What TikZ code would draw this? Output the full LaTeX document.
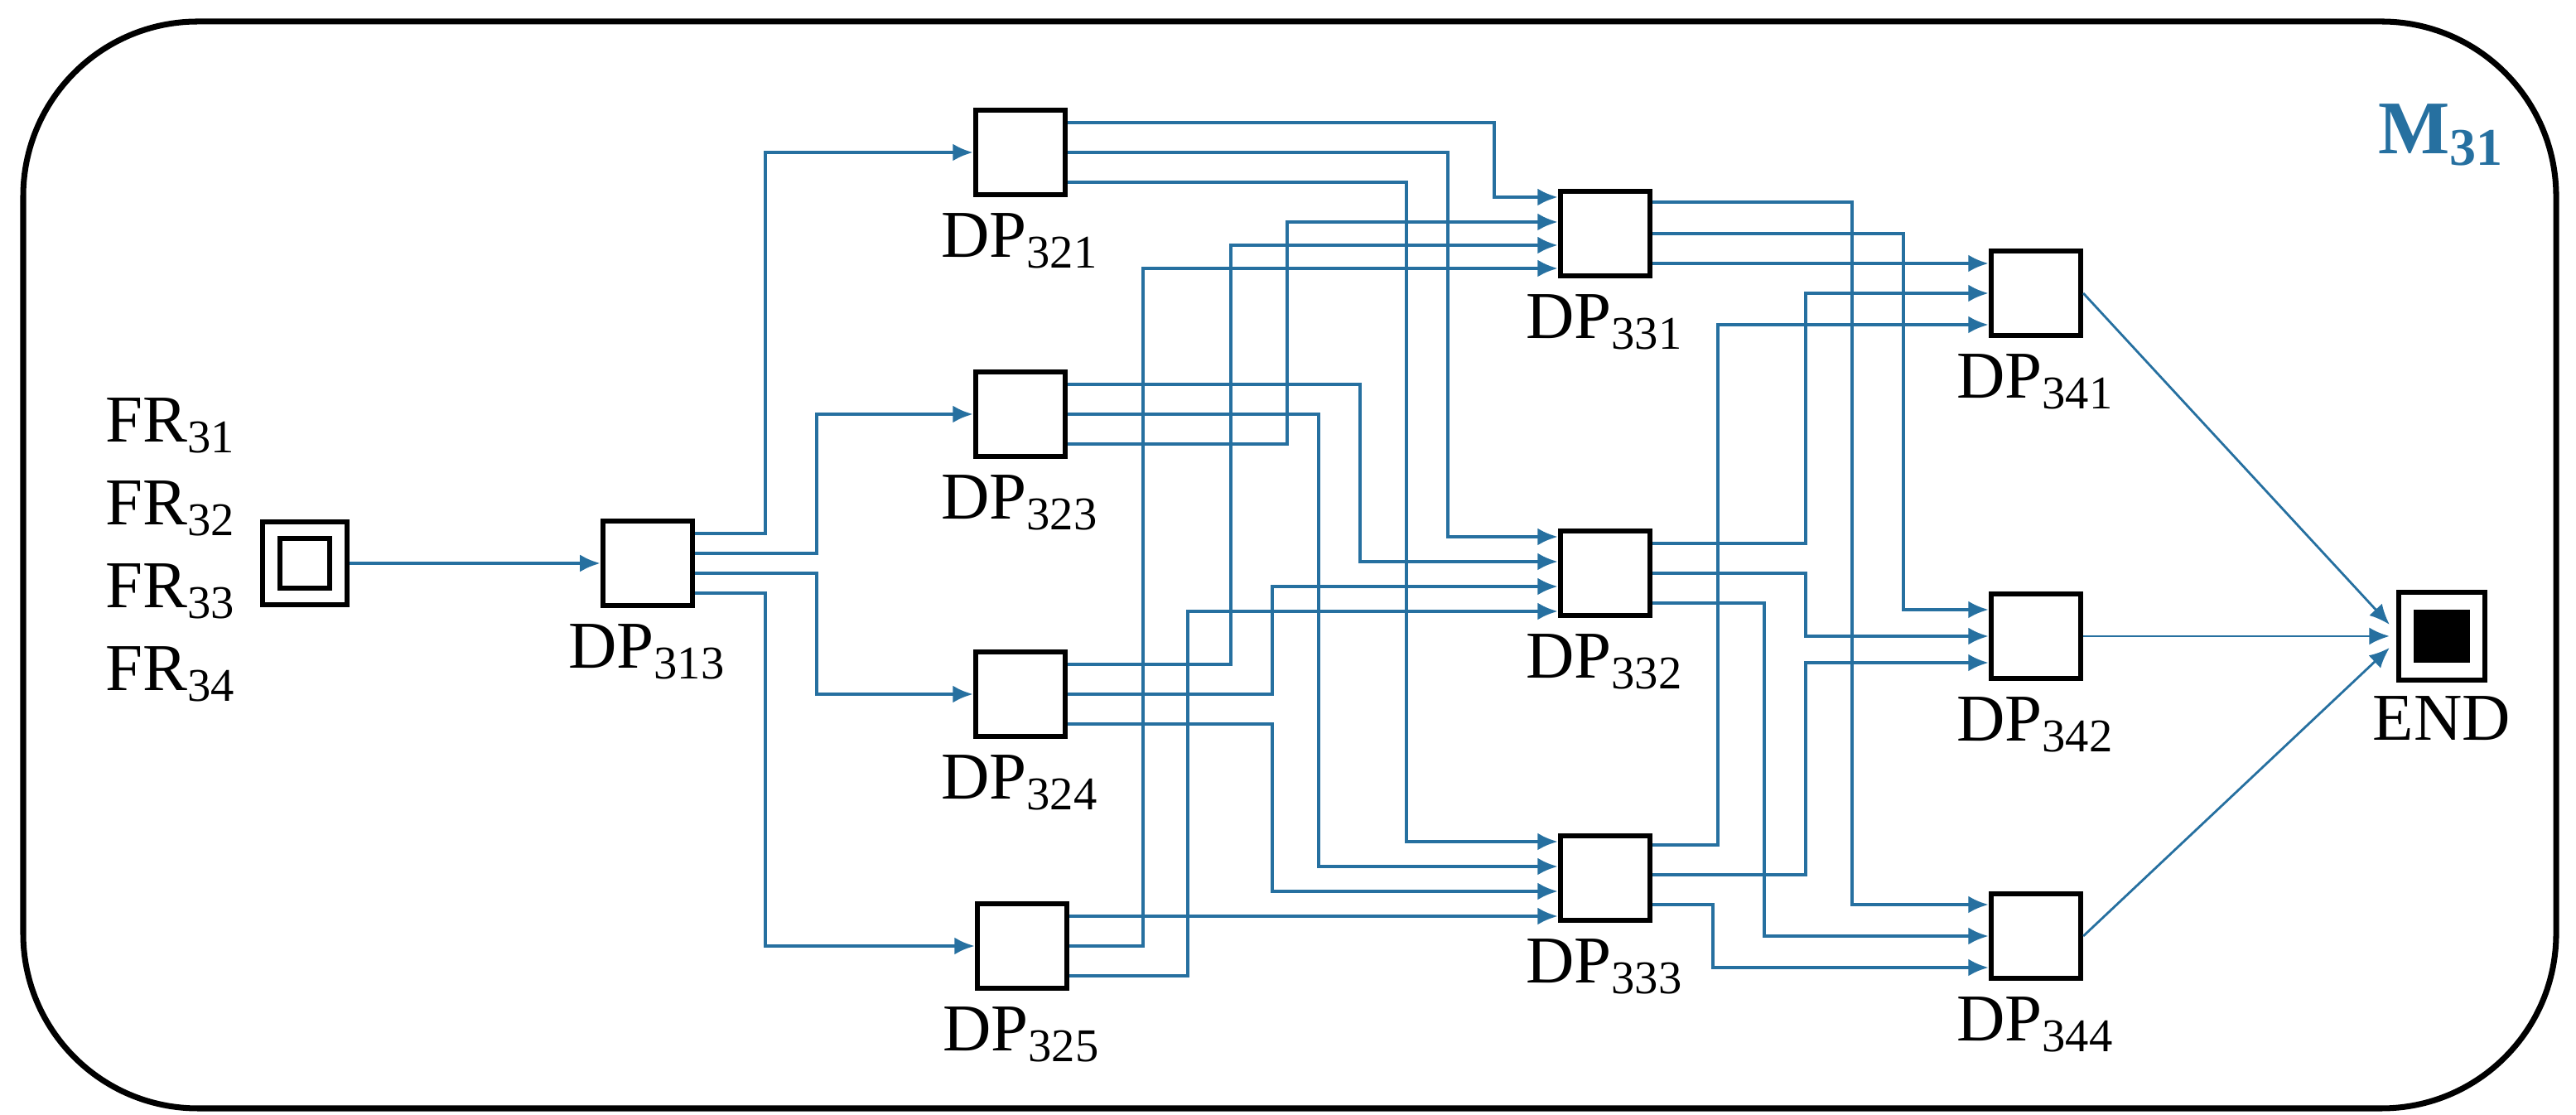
\documentclass[tikz,border=0pt]{standalone}
\usepackage{fontspec}
\setmainfont{Liberation Serif}
\usetikzlibrary{calc,arrows.meta,positioning}
\definecolor{flowblue}{RGB}{38,112,160}
\tikzset{
  box/.style={draw,line width=0.9pt,minimum width=5.4mm,minimum height=5.1mm,inner sep=0pt},
  flow/.style={flowblue,line width=0.6pt,-{Latex[length=3.5pt,width=3pt]}},
  lbl/.style={inner sep=0pt,font=\fontsize{11.5}{13}\selectfont},
}
% elbow connector: out of #1, vertical run at x=#2, into #3
\newcommand\route[3]{\draw[flow] let \p1=(#1), \p2=(#3) in (\p1) -- ({#2*0.1mm},\y1) -- ({#2*0.1mm},\y2) -- (\p2);}
\begin{document}
\begin{tikzpicture}[x=0.1mm,y=-0.1mm]
\useasboundingbox (0,0) rectangle (1555,673);
\draw[line width=1pt,rounded corners=30] (14,13) rectangle (1543,669);
\node[anchor=base west,inner sep=0pt,text=flowblue,font=\fontsize{13}{15}\selectfont\bfseries] (m31) at (1435,93) {M\textsubscript{31}};
% requirements
\foreach \k in {1,...,4}
  \node[lbl,anchor=base west] (fr3\k) at (63,{217+50*\k}) {FR\textsubscript{3\k}};
% start and end
\node[box,minimum width=5.1mm,minimum height=5.0mm] (start) at (184,340) {};
\node[box,minimum width=3.0mm,minimum height=3.0mm] (start-in) at (start) {};
\node[box,minimum width=5.2mm,minimum height=5.3mm] (end) at (1474,384) {};
\node[box,fill=black,minimum width=3.1mm,minimum height=2.9mm] (end-in) at (end) {};
\node[lbl,below=2.2pt of end] (end-l) {END};
% design parameters
\node[box] (dp313) at (391,340) {};
\node[box] (dp321) at (616,92) {};
\node[box] (dp323) at (616,250) {};
\node[box] (dp324) at (616,419) {};
\node[box] (dp325) at (617,571) {};
\node[box] (dp331) at (969,141) {};
\node[box] (dp332) at (969,346) {};
\node[box] (dp333) at (969,530) {};
\node[box] (dp341) at (1229,177) {};
\node[box] (dp342) at (1229,384) {};
\node[box] (dp344) at (1229,565) {};
\foreach \n in {313,321,323,324,325,331,332,333,341,342,344}
  \node[lbl,below=2.6pt of dp\n] (dp\n-l) {DP\textsubscript{\n}};
% level 1
\draw[flow] (start) -- (dp313);
\route{$(dp313.east)+(0,-18)$}{462}{dp321.west}
\route{$(dp313.east)+(0,-6)$}{493}{dp323.west}
\route{$(dp313.east)+(0,6)$}{493}{dp324.west}
\route{$(dp313.east)+(0,18)$}{462}{dp325.west}
% level 2
\route{$(dp321.east)+(0,-18)$}{902}{$(dp331.west)+(0,-22)$}
\route{$(dp321.east)+(0,0)$}{874}{$(dp332.west)+(0,-22)$}
\route{$(dp321.east)+(0,18)$}{849}{$(dp333.west)+(0,-22)$}
\route{$(dp323.east)+(0,-18)$}{821}{$(dp332.west)+(0,-7)$}
\route{$(dp323.east)+(0,0)$}{796}{$(dp333.west)+(0,-7)$}
\route{$(dp323.east)+(0,18)$}{777}{$(dp331.west)+(0,-7)$}
\route{$(dp324.east)+(0,-18)$}{743}{$(dp331.west)+(0,7)$}
\route{$(dp324.east)+(0,0)$}{768}{$(dp332.west)+(0,8)$}
\route{$(dp324.east)+(0,18)$}{768}{$(dp333.west)+(0,8)$}
\draw[flow] ($(dp325.east)+(0,-18)$) -- ($(dp333.west)+(0,23)$);
\route{$(dp325.east)+(0,0)$}{690}{$(dp331.west)+(0,21)$}
\route{$(dp325.east)+(0,18)$}{717}{$(dp332.west)+(0,23)$}
% level 3
\route{$(dp331.east)+(0,-19)$}{1118}{$(dp344.west)+(0,-19)$}
\route{$(dp331.east)+(0,0)$}{1149}{$(dp342.west)+(0,-16)$}
\draw[flow] ($(dp331.east)+(0,18)$) -- ($(dp341.west)+(0,-18)$);
\route{$(dp332.east)+(0,-18)$}{1090}{$(dp341.west)+(0,0)$}
\route{$(dp332.east)+(0,0)$}{1090}{$(dp342.west)+(0,0)$}
\route{$(dp332.east)+(0,18)$}{1065}{$(dp344.west)+(0,0)$}
\route{$(dp333.east)+(0,-20)$}{1037}{$(dp341.west)+(0,19)$}
\route{$(dp333.east)+(0,-2)$}{1090}{$(dp342.west)+(0,16)$}
\route{$(dp333.east)+(0,16)$}{1034}{$(dp344.west)+(0,19)$}
% to end
\draw[flow,line width=0.4pt] (dp341.east) -- ($(end.west)+(-4,-7)$);
\draw[flow,line width=0.4pt] (dp342.east) -- ($(end.west)+(-4,0)$);
\draw[flow,line width=0.4pt] (dp344.east) -- ($(end.west)+(-4,7)$);
\end{tikzpicture}
\end{document}
